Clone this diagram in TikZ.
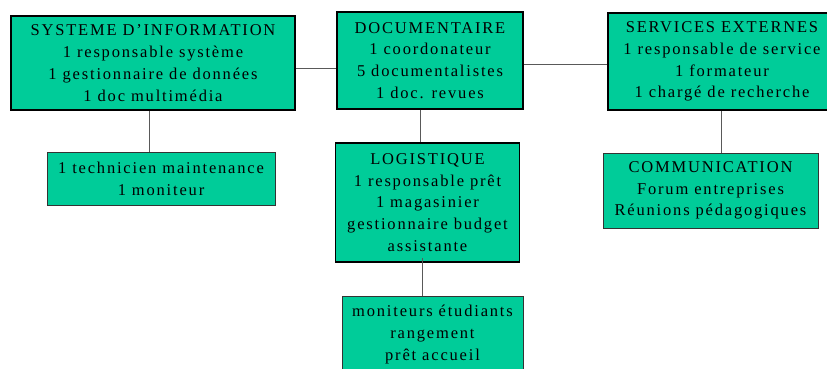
\documentclass[tikz,border=0pt]{standalone}
\usepackage{fontspec}
\setmainfont[LetterSpace=11]{Liberation Serif}
\definecolor{boxgreen}{RGB}{0,204,153}
\begin{document}
\begin{tikzpicture}[x=1pt, y=-1pt,
    unit/.style={draw, fill=boxgreen, align=center, inner sep=1pt, font=\fontsize{16.5}{21.8}\selectfont},
    mainbox/.style={unit, line width=1.8pt},
    subbox/.style={unit, line width=0.6pt, draw=black!80},
    conn/.style={draw=black!65, line width=1pt}]
        \useasboundingbox (0,0) rectangle (827,368);
        % services principaux
        \node[mainbox, minimum width=284pt, minimum height=94pt] (SI) at (153, 63) {SYSTEME D'INFORMATION\\1 responsable système\\1 gestionnaire de données\\1 doc multimédia};
        \node[mainbox, minimum width=186pt, minimum height=97pt] (DOC) at (430, 60.5) {DOCUMENTAIRE\\1 coordonateur\\5 documentalistes\\1 doc. revues};
        \node[mainbox, minimum width=228pt, minimum height=97pt] (SE) at (722, 61.5) {SERVICES EXTERNES\\1 responsable de service\\1 formateur\\1 chargé de recherche};
        \node[mainbox, minimum width=184pt, minimum height=119pt] (LOG) at (427.5, 202.5) {LOGISTIQUE\\1 responsable prêt\\1 magasinier\\gestionnaire budget\\assistante};
        % equipes rattachees
        \node[subbox, minimum width=228pt, minimum height=53pt] (TECH) at (161, 178.5) {1 technicien maintenance\\1 moniteur};
        \node[subbox, minimum width=215pt, minimum height=75pt] (COMM) at (710.5, 190.5) {COMMUNICATION\\Forum entreprises\\Réunions pédagogiques};
        \node[subbox, minimum width=181pt, minimum height=76pt, anchor=north] (MON) at (432.5, 296) {moniteurs étudiants\\rangement\\prêt accueil};

        \draw[conn] ([yshift=-5pt]SI.east) -- ([yshift=-5pt]SI.east -| DOC.west);
        \draw[conn] ([yshift=-4pt]DOC.east) -- ([yshift=-4pt]DOC.east -| SE.west);
        \draw[conn] ([xshift=-4pt]SI.south) -- ([xshift=-4pt]SI.south |- TECH.north);
        \draw[conn] ([xshift=-10pt]DOC.south) -- ([xshift=-10pt]DOC.south |- LOG.north);
        \draw[conn] ([xshift=-5pt, yshift=5pt]LOG.south) -- ([xshift=-5pt]LOG.south |- MON.north);
        \draw[conn] ([xshift=-1pt]SE.south) -- ([xshift=-1pt]SE.south |- COMM.north);
    \end{tikzpicture}
\end{document}
